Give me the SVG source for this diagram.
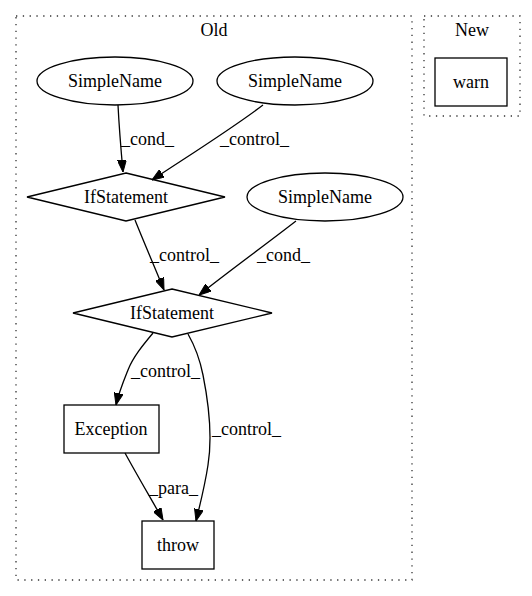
<svg xmlns="http://www.w3.org/2000/svg" width="532" height="596" viewBox="0 0 532 596">
<defs>
<style>
text{font-family:"Liberation Serif","Times New Roman",serif;font-size:18px;fill:#000}
.n{fill:none;stroke:#000;stroke-width:1.3}
.e{fill:none;stroke:#000;stroke-width:1.3}
.c{fill:none;stroke:#333;stroke-width:1.3;stroke-dasharray:1.3,5.5}
.mid{text-anchor:middle}
</style>
<marker id="ah" markerWidth="12" markerHeight="9" refX="12" refY="4.5" orient="auto" markerUnits="userSpaceOnUse">
<polygon points="0,0 12,4.5 0,9" fill="#000" stroke="#000"/>
</marker>
</defs>
<rect width="532" height="596" fill="#fff"/>
<g id="cluster_old">
<rect class="c" x="16" y="16" width="396" height="564"/>
<text class="mid" x="214" y="36">Old</text>
</g>
<g id="cluster_new">
<rect class="c" x="424" y="16" width="96" height="100"/>
<text class="mid" x="472" y="36">New</text>
</g>
<g id="edges">
<path class="e" d="M118,105 C119,125 121,150 123,172" marker-end="url(#ah)"/>
<text x="121" y="145">_cond_</text>
<path class="e" d="M263,105 C230,130 185,158 152,180" marker-end="url(#ah)"/>
<text x="220" y="145">_control_</text>
<path class="e" d="M135,220 C143,240 155,268 164,290" marker-end="url(#ah)"/>
<text x="150" y="261">_control_</text>
<path class="e" d="M296,221 C265,245 228,272 199,295" marker-end="url(#ah)"/>
<text x="257" y="261">_cond_</text>
<path class="e" d="M153,333 C143,345 133,357 128,370 C124,380 119,392 116,405" marker-end="url(#ah)"/>
<text x="131" y="377">_control_</text>
<path class="e" d="M188,334 C196,348 200,360 203,375 C210,410 212,440 208,465 C205,485 200,505 196,521" marker-end="url(#ah)"/>
<text x="212" y="435">_control_</text>
<path class="e" d="M125,453 C137,475 150,497 163,520" marker-end="url(#ah)"/>
<text x="149" y="494">_para_</text>
</g>
<g id="sn1">
<ellipse class="n" cx="115" cy="81" rx="78" ry="24"/>
<text class="mid" x="115" y="87">SimpleName</text>
</g>
<g id="sn2">
<ellipse class="n" cx="295" cy="81" rx="78" ry="24"/>
<text class="mid" x="295" y="87">SimpleName</text>
</g>
<g id="if1">
<polygon class="n" points="126,173 225,197 126,221 27,197"/>
<text class="mid" x="126" y="203">IfStatement</text>
</g>
<g id="sn3">
<ellipse class="n" cx="325" cy="197" rx="78" ry="24"/>
<text class="mid" x="325" y="203">SimpleName</text>
</g>
<g id="if2">
<polygon class="n" points="172,289 272,313 172,337 73,313"/>
<text class="mid" x="172" y="319">IfStatement</text>
</g>
<g id="exception">
<rect class="n" x="64" y="405" width="95" height="48"/>
<text class="mid" x="111" y="435">Exception</text>
</g>
<g id="throw">
<rect class="n" x="142" y="521" width="72" height="48"/>
<text class="mid" x="178" y="551">throw</text>
</g>
<g id="warn">
<rect class="n" x="435" y="58" width="72" height="48"/>
<text class="mid" x="471" y="88">warn</text>
</g>
</svg>
